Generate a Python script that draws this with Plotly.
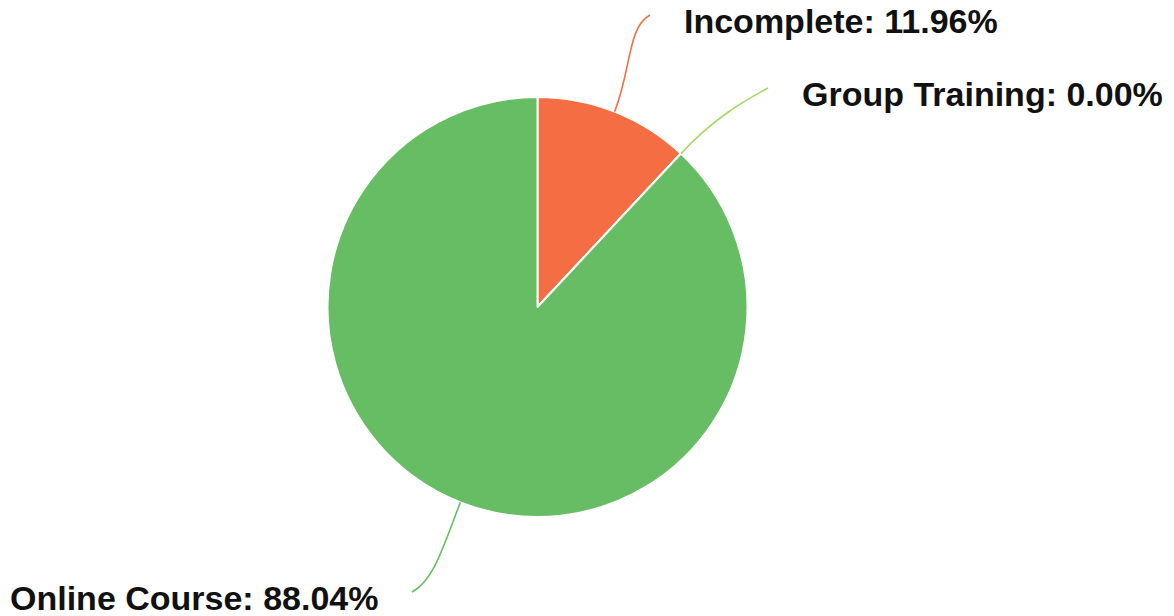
import math
import plotly.graph_objects as go

# Completion breakdown
categories = ["Incomplete", "Group Training", "Online Course"]
shares = [11.96, 0.00, 88.04]
slice_colors = ["#f46d43", "#a6d96a", "#66bd63"]

W, H = 1174, 616
CX, CY, R = 537.5, 307.0, 210.0

# Where each outside label's connector ends (label anchor), in pixels
label_anchor = {
    "Incomplete": (650, 15),
    "Group Training": (768, 88),
    "Online Course": (412, 592),
}
LABEL_GAP = 32
FONT = dict(family="Liberation Sans, Arial, sans-serif", size=34, color="#111111")

fig = go.Figure()

fig.add_trace(go.Pie(
    labels=categories,
    values=shares,
    sort=False,
    direction="clockwise",
    rotation=0,
    marker=dict(colors=slice_colors, line=dict(color="#ffffff", width=2)),
    textinfo="none",
    hoverinfo="label+percent",
    showlegend=False,
    domain=dict(x=[(CX - R) / W, (CX + R) / W],
                y=[(H - CY - R) / H, (H - CY + R) / H]),
))

total = sum(shares)
cum = 0.0
shapes = []
annotations = []
for name, val, col in zip(categories, shares, slice_colors):
    mid = (cum + val / 2) / total * 2 * math.pi  # clockwise from 12 o'clock
    cum += val
    ux, uy = math.sin(mid), -math.cos(mid)
    ex, ey = CX + R * ux, CY + R * uy
    lx, ly = label_anchor[name]
    d = math.hypot(lx - ex, ly - ey)
    side = 1 if lx >= ex else -1
    p1 = (ex + ux * 0.45 * d, ey + uy * 0.45 * d)
    p2 = (lx - side * 0.22 * d, ly + (0.12 * d if ly < ey else -0.12 * d))
    shapes.append(dict(
        type="path", xref="x", yref="y",
        path=f"M {ex:.1f},{ey:.1f} C {p1[0]:.1f},{p1[1]:.1f} {p2[0]:.1f},{p2[1]:.1f} {lx:.1f},{ly:.1f}",
        line=dict(color=col, width=1.6),
    ))
    annotations.append(dict(
        x=lx + side * LABEL_GAP, y=ly + 6, xref="x", yref="y",
        text=f"<b>{name}: {val:.2f}%</b>", showarrow=False,
        xanchor="left" if side > 0 else "right", yanchor="middle",
        font=FONT,
    ))

fig.update_layout(
    width=W, height=H,
    margin=dict(l=0, r=0, t=0, b=0),
    paper_bgcolor="#ffffff", plot_bgcolor="rgba(0,0,0,0)",
    xaxis=dict(range=[0, W], visible=False, fixedrange=True),
    yaxis=dict(range=[H, 0], visible=False, fixedrange=True),
    shapes=shapes,
    annotations=annotations,
)

fig.write_html("out.html")
